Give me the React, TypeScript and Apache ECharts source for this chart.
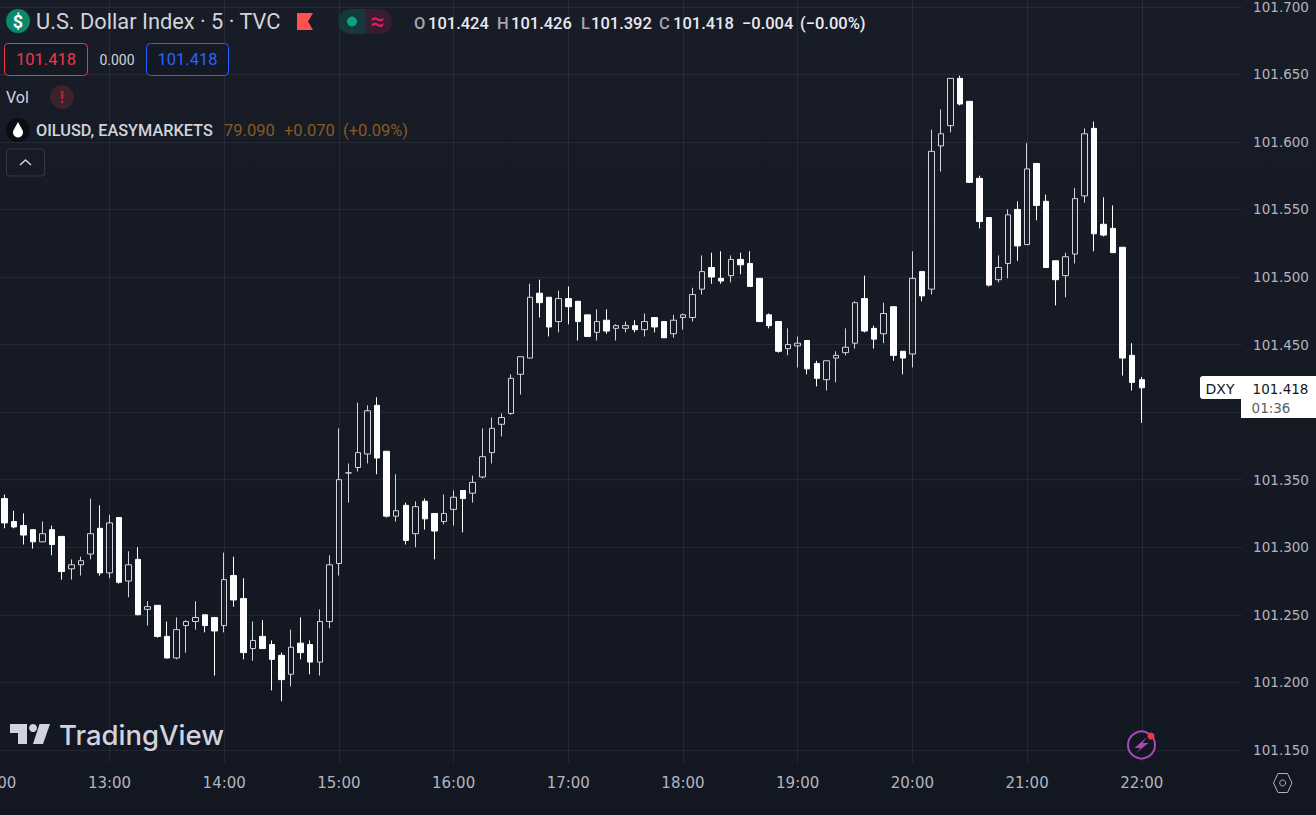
import React, { useEffect, useRef } from "react";
import * as echarts from "echarts";

const opens = [
  336,319,316,313,304,313,308,284,287,295,314,281,322,275,291,254,257,234,218,242,
  245,250,248,242,279,262,225,234,228,220,206,229,228,215,245,288,355,359,369,405,
  371,323,331,310,334,325,319,328,342,340,352,370,391,399,428,440,488,485,467,484,
  482,472,459,468,462,462,464,461,470,467,458,470,470,491,507,499,501,513,510,499,
  472,467,447,449,453,436,424,440,444,451,484,462,458,478,445,443,504,491,597,612,
  647,630,573,544,498,510,550,524,584,556,512,501,517,560,610,539,536,522,442,424,
];
const highs = [
  339,327,325,313,319,316,308,291,293,336,331,324,322,297,300,260,257,245,248,246,
  260,250,248,296,293,277,245,246,231,222,239,248,231,254,294,388,362,407,405,411,
  371,354,333,334,336,325,339,342,342,353,388,396,399,428,441,495,498,485,490,493,
  482,472,476,476,465,467,468,473,470,467,472,473,492,516,518,519,516,518,519,499,
  473,467,462,456,453,438,438,445,462,482,501,464,481,478,445,519,504,609,624,647,
  649,630,575,544,516,550,556,599,584,561,512,518,566,610,615,559,553,522,451,426,
];
const lows = [
  314,314,302,299,304,294,276,276,279,291,279,277,273,263,250,242,233,218,217,222,
  239,237,205,237,256,217,216,225,194,186,197,217,206,205,240,279,333,356,362,354,
  322,319,302,300,313,291,317,316,311,333,351,362,382,398,413,440,470,456,459,465,
  453,456,453,458,453,459,459,456,459,455,455,461,467,487,495,495,496,502,493,467,
  462,444,442,433,428,419,416,422,442,447,459,447,451,438,428,433,482,487,578,607,
  627,570,536,493,496,499,512,524,542,507,479,485,510,555,519,530,518,427,416,392,
];
const closes = [
  318,315,309,304,310,302,282,287,290,310,281,318,274,287,250,256,234,218,239,245,
  248,242,238,276,261,222,231,225,217,202,226,222,215,245,287,350,355,370,401,366,
  323,327,305,330,321,312,325,337,336,348,367,388,396,425,441,485,481,463,484,478,
  467,456,467,460,464,464,461,467,463,455,468,472,487,504,500,497,513,509,493,467,
  464,445,450,451,432,425,438,442,448,481,460,454,473,442,440,499,486,593,606,647,
  628,570,541,494,507,546,523,580,553,507,498,515,558,606,532,531,518,440,422,418,
];

const gridTicks = [101.15, 101.2, 101.25, 101.3, 101.35, 101.4, 101.45, 101.5, 101.55, 101.6, 101.65, 101.7];
const labelTicks = [101.15, 101.2, 101.25, 101.3, 101.35, 101.45, 101.5, 101.55, 101.6, 101.65, 101.7];
const emptyLeading = 1;
const emptyTrailing = 10;

const timeCategories: string[] = [];
for (let i = 0; i < emptyLeading + opens.length + emptyTrailing; i++) {
  const m = 12 * 60 + i * 5;
  const hh = Math.floor(m / 60) % 24;
  const mm = m % 60;
  timeCategories.push(`${String(hh).padStart(2, "0")}:${String(mm).padStart(2, "0")}`);
}

const price = (milli: number) => Number((101 + milli / 1000).toFixed(3));
const candleData: any[] = [["-", "-", "-", "-"]];
opens.forEach((o, i) => {
  candleData.push([price(o), price(closes[i]), price(lows[i]), price(highs[i])]);
});

const UI_FONT = "Roboto, sans-serif";
const AXIS_FONT = "'DejaVu Sans', sans-serif";
const GRID = "rgba(240,243,250,0.07)";

const t = (text: string, x: number, y: number, fill: string, size: number, extra: any = {}) => ({
  type: "text",
  x,
  y,
  silent: true,
  z: 50,
  style: {
    text,
    fill,
    font: `${extra.weight || "normal"} ${size}px ${extra.family || UI_FONT}`,
    textAlign: extra.align || "left",
    textVerticalAlign: "middle",
  },
});

const shape = (type: string, sh: any, style: any) => ({ type, shape: sh, style, silent: true, z: 50 });

const HEADER_BOX = "#151924";

const overlay: any[] = [
  shape("circle", { cx: 18, cy: 21, r: 12 }, { fill: "#0a8a6c" }),
  t("$", 18, 21.5, "#ffffff", 18, { align: "center", weight: "bold" }),
  t("U.S. Dollar Index · 5 · TVC", 36, 21, "#d1d4dc", 21.8),
  shape("polygon", { points: [[297, 13], [313, 13], [308, 21.5], [313, 30], [297, 30]] }, { fill: "#ff5252" }),
  shape("rect", { x: 338, y: 9, width: 27, height: 25, r: [12.5, 0, 0, 12.5] }, { fill: "#16383a" }),
  shape("rect", { x: 365, y: 9, width: 27, height: 25, r: [0, 12.5, 12.5, 0] }, { fill: "#371c33" }),
  shape("circle", { cx: 352, cy: 21.5, r: 5 }, { fill: "#0aa184" }),
  t("≈", 377.5, 21, "#e91e63", 25, { align: "center" }),
  t("O", 414, 23, "#a3a6af", 16.5, { weight: 500 }),
  t("101.424", 428, 23, "#e8eaf0", 16.5, { weight: 500 }),
  t("H", 497, 23, "#a3a6af", 16.5, { weight: 500 }),
  t("101.426", 511, 23, "#e8eaf0", 16.5, { weight: 500 }),
  t("L", 581, 23, "#a3a6af", 16.5, { weight: 500 }),
  t("101.392", 591, 23, "#e8eaf0", 16.5, { weight: 500 }),
  t("C", 659, 23, "#a3a6af", 16.5, { weight: 500 }),
  t("101.418", 673, 23, "#e8eaf0", 16.5, { weight: 500 }),
  t("−0.004", 742, 23, "#e8eaf0", 16.5, { weight: 500 }),
  t("(−0.00%)", 800, 23, "#e8eaf0", 16.5, { weight: 500 }),

  shape("rect", { x: 4.5, y: 43.5, width: 83, height: 32, r: 4 }, { fill: HEADER_BOX, stroke: "#f23645", lineWidth: 1 }),
  t("101.418", 46, 59.5, "#f23645", 16.5, { align: "center" }),
  t("0.000", 117, 59.5, "#d1d4dc", 14, { align: "center" }),
  shape("rect", { x: 146.5, y: 43.5, width: 82, height: 32, r: 4 }, { fill: HEADER_BOX, stroke: "#2962ff", lineWidth: 1 }),
  t("101.418", 187.5, 59.5, "#2962ff", 16.5, { align: "center" }),

  t("Vol", 6, 97, "#d1d4dc", 16),
  shape("circle", { cx: 62, cy: 97, r: 12 }, { fill: "#3d222b" }),
  t("!", 62, 97, "#b22833", 16, { align: "center", weight: "bold" }),

  shape("circle", { cx: 18, cy: 130, r: 12 }, { fill: "#0b0d13" }),
  shape("circle", { cx: 18, cy: 132.5, r: 5 }, { fill: "#ffffff" }),
  shape("polygon", { points: [[18, 122], [13.4, 130.5], [22.6, 130.5]] }, { fill: "#ffffff" }),
  t("OILUSD, EASYMARKETS", 36, 130, "#d1d4dc", 16.3, { weight: 500 }),
  t("79.090", 224, 130, "#8a5a20", 16.5),
  t("+0.070", 284, 130, "#8a5a20", 16.5),
  t("(+0.09%)", 343, 130, "#8a5a20", 16.5),

  shape("rect", { x: 6.5, y: 149, width: 38, height: 27, r: 3 }, { fill: "transparent", stroke: "#363a45", lineWidth: 1 }),
  shape("polyline", { points: [[20, 165], [25.5, 160], [31, 165]] }, { stroke: "#d1d4dc", lineWidth: 1.5, fill: "none" }),

  shape("polygon", { points: [[10, 724], [27, 724], [27, 744], [18, 744], [18, 733], [10, 733]] }, { fill: "#d1d4dc" }),
  shape("circle", { cx: 33, cy: 728, r: 4 }, { fill: "#d1d4dc" }),
  shape("polygon", { points: [[39.5, 724], [50, 724], [43, 744], [33, 744]] }, { fill: "#d1d4dc" }),
  t("TradingView", 59, 735, "#d1d4dc", 27.5, { weight: 500, family: "Inter, sans-serif" }),

  shape("rect", { x: 1200, y: 376, width: 42, height: 23, r: [3, 0, 0, 3] }, { fill: "#ffffff" }),
  t("DXY", 1220, 389, "#131722", 14, { align: "center", family: AXIS_FONT }),
  shape("rect", { x: 1241, y: 376, width: 75, height: 42 }, { fill: "#ffffff" }),
  t("101.418", 1280.5, 389, "#131722", 13.5, { align: "center", family: AXIS_FONT }),
  t("01:36", 1271, 408, "#5d606b", 13.5, { align: "center", family: AXIS_FONT }),

  shape("circle", { cx: 1141.5, cy: 745, r: 13.5 }, { fill: "#131722", stroke: "#ab47bc", lineWidth: 2 }),
  shape("polygon", { points: [[1147, 737], [1134.5, 748], [1140.5, 748], [1136, 753], [1148.5, 743], [1142.5, 743]] }, { fill: "#ab47bc" }),
  shape("circle", { cx: 1151, cy: 736, r: 3.5 }, { fill: "#f23645" }),

  shape("polygon", { points: [[1273.5, 783], [1278, 773.5], [1287.5, 773.5], [1292, 783], [1287.5, 792.5], [1278, 792.5]] }, { fill: "transparent", stroke: "#b2b5be", lineWidth: 1 }),
  shape("circle", { cx: 1282.7, cy: 783, r: 3 }, { fill: "transparent", stroke: "#b2b5be", lineWidth: 1 }),
];

const isHour = (_: number, value: string) => value.endsWith(":00");

export default function App() {
  const ref = useRef<HTMLDivElement>(null);
  useEffect(() => {
    document.body.style.margin = "0";
    document.body.style.background = "#131722";
    const chart = echarts.init(ref.current!, undefined, { renderer: "svg" });
    chart.setOption({
      animation: false,
      backgroundColor: new echarts.graphic.LinearGradient(0, 0, 0, 1, [
        { offset: 0, color: "#181c27" },
        { offset: 1, color: "#131722" },
      ]),
      grid: { left: -9.98, top: 0, width: 131 * 9.558, height: 763, containLabel: false, outerBoundsMode: "none" },
      xAxis: {
        type: "category",
        data: timeCategories,
        boundaryGap: true,
        axisLine: { show: false },
        axisTick: { show: false, alignWithLabel: true, interval: isHour },
        axisLabel: {
          interval: isHour,
          color: "#b2b5be",
          fontFamily: AXIS_FONT,
          fontSize: 15,
          margin: 12,
        },
        splitLine: { show: true, alignWithLabel: true, interval: isHour, lineStyle: { color: GRID, width: 1 } },
      },
      yAxis: {
        type: "value",
        position: "right",
        min: 101.1403,
        max: 101.705,
        scale: true,
        axisLine: { show: false },
        axisTick: { show: false, customValues: gridTicks },
        axisLabel: {
          customValues: labelTicks,
          formatter: (v: number) => v.toFixed(3),
          color: "#b2b5be",
          fontFamily: AXIS_FONT,
          fontSize: 13.5,
          margin: 11,
        },
        splitLine: { show: true, lineStyle: { color: GRID, width: 1 } },
      },
      series: [
        {
          type: "candlestick",
          data: candleData,
          barWidth: 6,
          clip: true,
          itemStyle: {
            color: "transparent",
            color0: "#ffffff",
            colorDoji: "#d1d4dc",
            borderColor: "#d1d4dc",
            borderColor0: "#ffffff",
            borderColorDoji: "#d1d4dc",
            borderWidth: 1,
          },
        },
      ],
      graphic: { elements: overlay },
    });
    return () => chart.dispose();
  }, []);
  return <div ref={ref} style={{ width: 1316, height: 815 }} />;
}
